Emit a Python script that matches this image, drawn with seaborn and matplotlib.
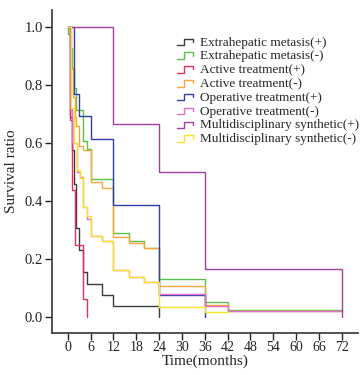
import matplotlib
matplotlib.use("Agg")
import matplotlib.pyplot as plt
from matplotlib.legend_handler import HandlerBase
from matplotlib.lines import Line2D
import numpy as np
import pandas as pd
import seaborn as sns

# Kaplan-Meier style curves (time in months, survival ratio)
ext_pos_t = [0, 0.5, 1, 1.6, 2.2, 3, 4, 4.9, 8.9, 12, 24]
ext_pos_s = [1.0, 0.69, 0.577, 0.46, 0.308, 0.231, 0.154, 0.115, 0.077, 0.038, 0.0]

ext_neg_t = [0, 0.1, 0.5, 1, 1.5, 2.1, 3.9, 4.9, 6, 12, 16, 20, 24, 36, 42, 72]
ext_neg_s = [1.0, 0.976, 0.93, 0.86, 0.79, 0.714, 0.607, 0.58, 0.476, 0.29, 0.263, 0.237, 0.131, 0.052, 0.026, 0.026]

act_pos_t = [0, 0.5, 1.2, 1.8, 3.9, 4.9]
act_pos_s = [1.0, 0.68, 0.44, 0.25, 0.062, 0.0]

act_neg_t = [0, 0.8, 1.3, 1.8, 2.2, 3.0, 4.0, 6.0, 9, 12, 16, 20, 24, 36, 42, 72]
act_neg_s = [1.0, 0.857, 0.76, 0.69, 0.66, 0.59, 0.575, 0.466, 0.447, 0.277, 0.255, 0.237, 0.106, 0.043, 0.021, 0.021]

op_pos_t = [0, 1.6, 2.9, 6, 12, 24, 36]
op_pos_s = [1.0, 0.769, 0.692, 0.615, 0.385, 0.077, 0.0]

op_neg_t = [0, 0.5, 1.2, 2.5, 3.2, 3.9, 5, 6, 9, 12, 16, 20, 24, 36, 42, 72]
op_neg_s = [1.0, 0.72, 0.60, 0.50, 0.483, 0.38, 0.34, 0.279, 0.262, 0.162, 0.139, 0.12, 0.078, 0.039, 0.02, 0.02]

multi_pos_t = [0, 12, 24, 36, 72]
multi_pos_s = [1.0, 0.667, 0.5, 0.167, 0.0]

multi_neg_t = [0, 0.7, 1.7, 2.5, 3.2, 3.9, 5, 6, 9, 12, 16, 20, 24, 36, 42]
multi_neg_s = [1.0, 0.72, 0.60, 0.507, 0.48, 0.38, 0.35, 0.279, 0.262, 0.162, 0.139, 0.12, 0.036, 0.016, 0.016]

labels = [
    "Extrahepatic metasis(+)",
    "Extrahepatic metasis(-)",
    "Active treatment(+)",
    "Active treatment(-)",
    "Operative treatment(+)",
    "Operative treatment(-)",
    "Multidisciplinary synthetic(+)",
    "Multidisciplinary synthetic(-)",
]
colors = ["#3c3c3c", "#5cbf4c", "#e8305a", "#f8a838", "#3040a8", "#e070c8", "#a040a0", "#f8e428"]

curves = [
    (ext_pos_t, ext_pos_s), (ext_neg_t, ext_neg_s),
    (act_pos_t, act_pos_s), (act_neg_t, act_neg_s),
    (op_pos_t, op_pos_s), (op_neg_t, op_neg_s),
    (multi_pos_t, multi_pos_s), (multi_neg_t, multi_neg_s),
]

frames = []
for lab, (t, s) in zip(labels, curves):
    frames.append(pd.DataFrame({"time": t, "surv": s, "group": lab}))
df = pd.concat(frames, ignore_index=True)


class StepHandler(HandlerBase):
    """Small step-shaped legend key like the SPSS survival plots."""

    def create_artists(self, legend, orig_handle, xdescent, ydescent,
                       width, height, fontsize, trans):
        xs = np.array([0, 0.45, 0.45, 1.0, 1.0]) * width - xdescent
        ys = np.array([0.05, 0.05, 0.75, 0.75, 0.4]) * height - ydescent
        line = Line2D(xs, ys, color=orig_handle.get_color(),
                      lw=orig_handle.get_linewidth())
        line.set_transform(trans)
        return [line]


sns.set_style("ticks")
plt.rcParams["font.family"] = ["Liberation Serif", "DejaVu Serif"]

fig = plt.figure(figsize=(3.63, 3.75), dpi=100)
ax = fig.add_axes([0.143, 0.112, 0.843, 0.861])

sns.lineplot(
    data=df, x="time", y="surv", hue="group", hue_order=labels,
    palette=dict(zip(labels, colors)), drawstyle="steps-post",
    estimator=None, sort=False, linewidth=1.0, legend=False, ax=ax,
)

ax.set_xlim(-4.2, 76.3)
ax.set_ylim(-0.055, 1.059)
ax.set_xticks(np.arange(0, 73, 6))
ax.set_yticks(np.arange(0, 1.01, 0.2))
ax.set_yticklabels([f"{v:.1f}" for v in np.arange(0, 1.01, 0.2)])
ax.tick_params(direction="out", length=5, width=1.0, labelsize=10.5, colors="#222222", pad=1.5)
ax.tick_params(axis="x", labelsize=10, pad=1)
for side in ["top", "right"]:
    ax.spines[side].set_visible(False)
for side in ["left", "bottom"]:
    ax.spines[side].set_linewidth(1.3)
    ax.spines[side].set_color("#444444")

ax.set_xlabel("Time(months)", fontsize=11, labelpad=0)
ax.set_ylabel("Survival ratio", fontsize=11, labelpad=5)

handles = [Line2D([], [], color=c, lw=1.0) for c in colors]
ax.legend(
    handles, labels, handler_map={Line2D: StepHandler()},
    loc="upper left", bbox_to_anchor=(172 / 363, 1 - 31 / 375),
    bbox_transform=fig.transFigure, frameon=False, fontsize=9.5,
    handlelength=1.2, handletextpad=0.5, labelspacing=0.12, borderaxespad=0,
)

fig.savefig("out.png", dpi=100)
